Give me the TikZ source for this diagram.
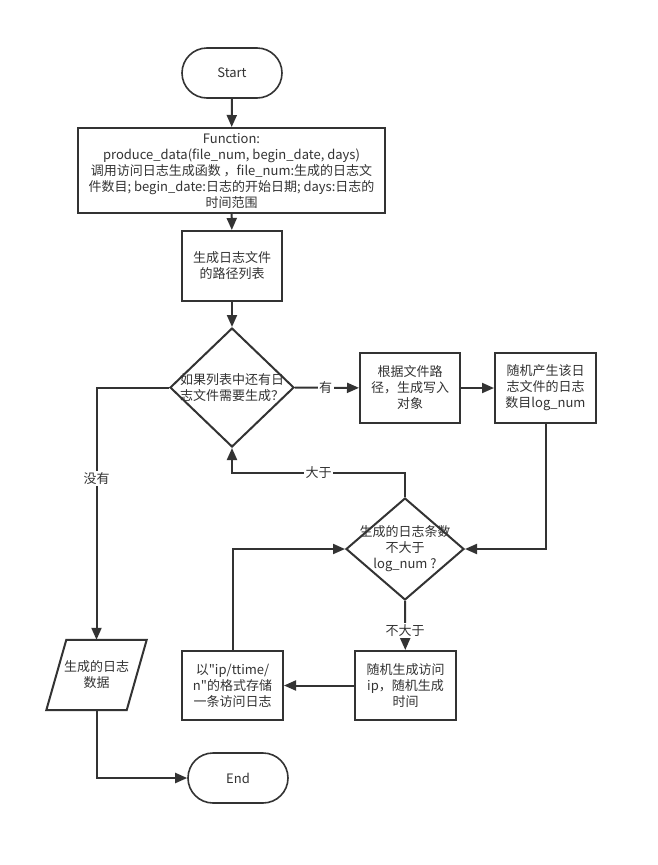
\documentclass[tikz,border=0pt]{standalone}
\usepackage{fontspec}
\newfontfamily\cjkfont{Noto Sans CJK SC}
\usetikzlibrary{shapes.geometric,arrows.meta,calc}
\definecolor{ink}{HTML}{333333}

\begin{document}
\begin{tikzpicture}[x=1pt,y=-1pt,
  font=\cjkfont\fontsize{13}{16}\selectfont,
  every node/.style={text=ink, align=center},
  box/.style={draw=ink, line width=2pt, rectangle, inner sep=0pt},
  term/.style={draw=ink, line width=1.6pt, rounded corners=25pt, minimum width=100pt, minimum height=50pt, inner sep=0pt},
  dec/.style={draw=ink, line width=2pt, diamond, inner sep=0pt},
  lbl/.style={fill=white, inner sep=1.5pt},
  arr/.style={draw=ink, line width=2pt, -{Triangle[length=12pt,width=10pt]}},
  ln/.style={draw=ink, line width=2pt}]
\useasboundingbox[fill=white] (0,0) rectangle (658,865);

% process nodes
\node[term] (start) at (232,73) {Start};
\node[box, minimum width=307pt, minimum height=85pt] (func) at (231.5,170.5)
  {Function:\\produce\_data(file\_num, begin\_date, days)\\调用访问日志生成函数 ，file\_num:生成的日志文\\件数目; begin\_date:日志的开始日期; days:日志的\\时间范围};
\node[box, minimum width=100pt, minimum height=70pt] (paths) at (232,266) {生成日志文件\\的路径列表};
\node[dec, minimum width=124pt, minimum height=119pt] (d1) at (232,387.5) {};
\node at (d1) {如果列表中还有日\\志文件需要生成？};
\node[box, minimum width=100pt, minimum height=70pt] (w) at (410,388) {根据文件路\\径，生成写入\\对象};
\node[box, minimum width=101pt, minimum height=70pt] (r) at (545.5,388) {随机产生该日\\志文件的日志\\数目log\_num};
\node[dec, minimum width=118pt, minimum height=102pt] (d2) at (405,549) {};
\node at (d2) {生成的日志条数\\不大于\\log\_num ?};
\node[box, minimum width=101pt, minimum height=69pt] (g) at (405.5,685.5) {随机生成访问\\ip，随机生成\\时间};
\node[box, minimum width=101pt, minimum height=69pt] (s) at (232.5,685.5) {以"ip/ttime/\\n"的格式存储\\一条访问日志};

% output (parallelogram)
\node[minimum width=80pt, minimum height=70pt, inner sep=0pt] (out) at (96.5,675) {生成的日志\\数据};
\draw[ink, line width=2pt, line join=miter]
  ($(out.north west)+(10,0)$) -- ($(out.north east)+(10,0)$) --
  ($(out.south east)+(-10,0)$) -- ($(out.south west)+(-10,0)$) -- cycle;

\node[term] (end) at (238,778) {End};

% connectors
\draw[arr] (start) -- (func);
\draw[arr] (func) -- (paths);
\draw[arr] (paths) -- (d1);
\draw[arr] (d1) -- node[lbl, pos=0.48] {有} (w);
\draw[arr] (w) -- (r);
\draw[arr] (r.south) |- (d2.east);
\draw[arr] (d2.north) |- node[lbl, pos=0.75] {大于} ($(d1.south)+(0,25)$) -- (d1.south);
\draw[arr] (d2.south) -- node[lbl, pos=0.6] {不大于} (g);
\draw[arr] (g) -- (s);
\draw[arr] (s.north) |- (d2.west);
\draw[arr] (d1.west) -| node[lbl, pos=0.68] {没有} (out.north);
\draw[arr] (out.south) |- (end);
\end{tikzpicture}
\end{document}
